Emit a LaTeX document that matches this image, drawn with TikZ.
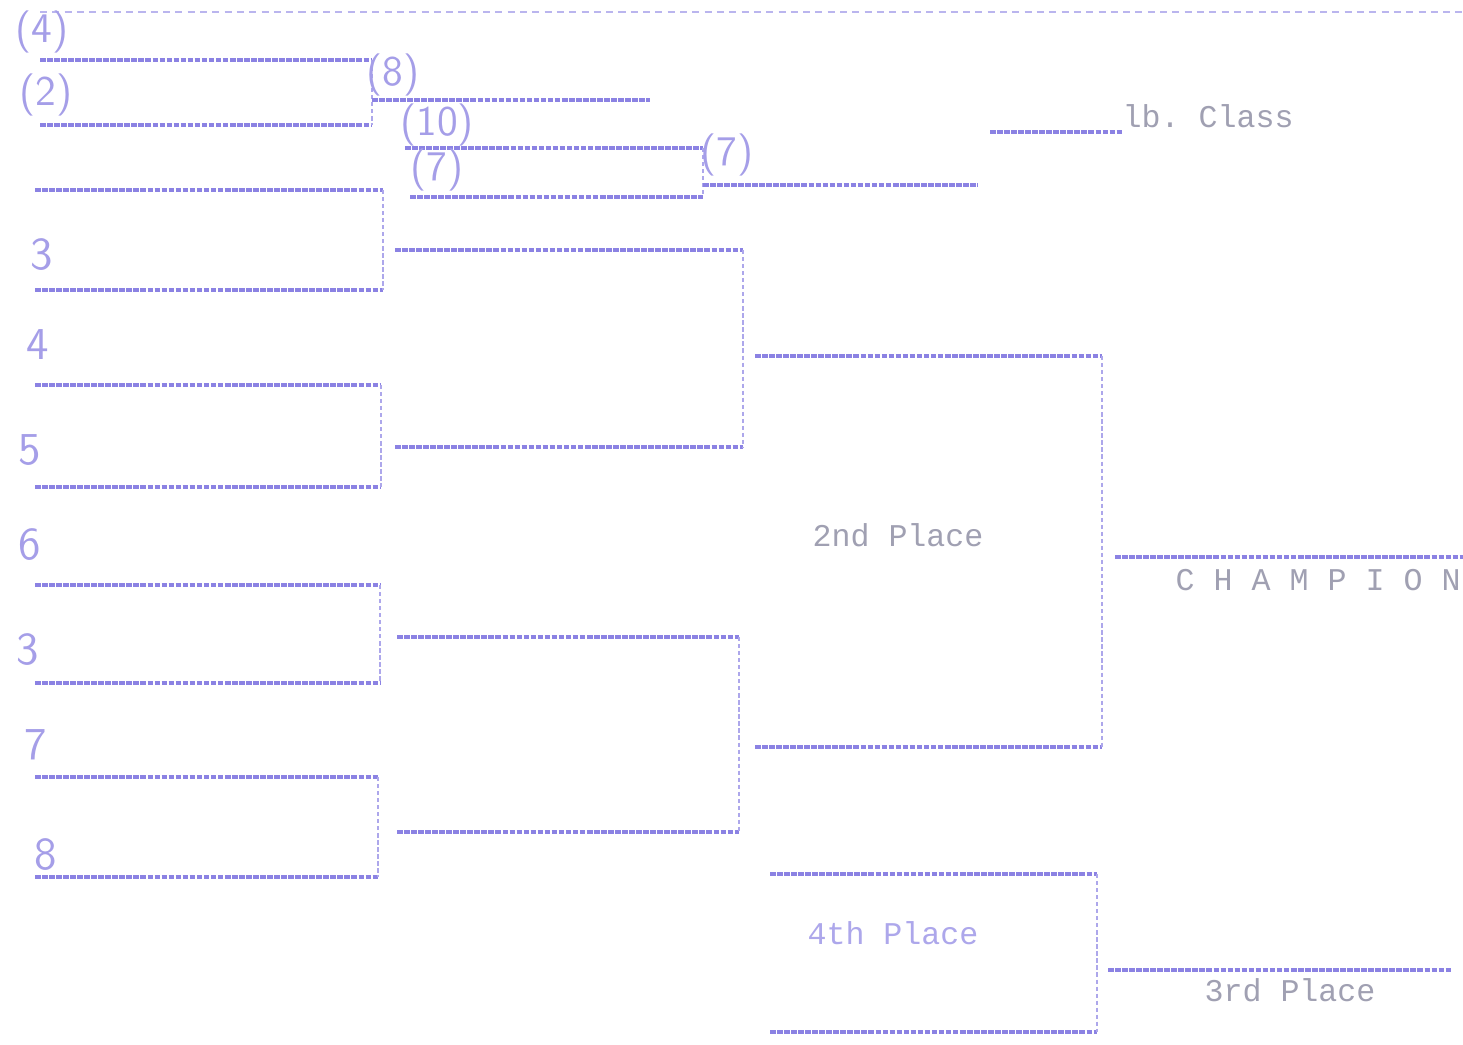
\documentclass[tikz,border=0pt]{standalone}
\usepackage{fontspec}
\setmonofont{Liberation Mono}
\usepackage{xcolor}
\usepackage{tikz}
\usetikzlibrary{positioning}

\definecolor{ditto}{RGB}{118,108,222}
\definecolor{typed}{RGB}{160,160,178}
\definecolor{pencil}{RGB}{165,158,232}

\begin{document}
\begin{tikzpicture}[
    x=0.01cm, y=-0.01cm,
    slot/.style={draw=ditto!85, line width=0.9pt, dash pattern=on 1.6pt off 0.4pt},
    tie/.style={draw=ditto!60, line width=0.5pt, dash pattern=on 1.2pt off 0.8pt},
    faint/.style={draw=ditto!50, line width=0.5pt, dash pattern=on 2pt off 1.5pt},
    label/.style={text=typed, font=\ttfamily\fontsize{9}{11}\selectfont, inner sep=0pt},
    hand/.style={text=pencil, font=\sffamily\fontsize{12}{14}\selectfont, inner sep=0pt},
    seed/.style={text=pencil, font=\sffamily\fontsize{13}{15}\selectfont, inner sep=0pt}
]
    \useasboundingbox[fill=white] (0,0) rectangle (1463,1044);

    % top rule
    \coordinate (topL) at (40,12);
    \coordinate (topR) at (1463,12);
    \draw[faint] (topL) -- (topR);

    % preliminary bouts
    \coordinate (pa1) at (40,60);   \coordinate (pa1e) at (372,60);
    \coordinate (pa2) at (40,125);  \coordinate (pa2e) at (372,125);
    \coordinate (pao) at (372,100); \coordinate (paoe) at (650,100);
    \coordinate (pb1) at (405,148); \coordinate (pb1e) at (703,148);
    \coordinate (pb2) at (410,197); \coordinate (pb2e) at (703,197);
    \coordinate (pbo) at (703,185); \coordinate (pboe) at (978,185);
    \draw[slot] (pa1) -- (pa1e);
    \draw[slot] (pa2) -- (pa2e);
    \draw[tie] (pa1e) -- (pa2e);
    \draw[slot] (pao) -- (paoe);
    \draw[slot] (pb1) -- (pb1e);
    \draw[slot] (pb2) -- (pb2e);
    \draw[tie] (pb1e) -- (pb2e);
    \draw[slot] (pbo) -- (pboe);

    % weight class
    \coordinate (cls) at (990,132);
    \node[label, anchor=south west] (clsname) at (1122,128) {lb. Class};
    \draw[slot] (cls) -- (cls -| clsname.west);

    % first round
    \coordinate (a1) at (35,190);  \coordinate (a1e) at (383,190);
    \coordinate (a2) at (35,290);  \coordinate (a2e) at (383,290);
    \coordinate (b1) at (35,385);  \coordinate (b1e) at (381,385);
    \coordinate (b2) at (35,487);  \coordinate (b2e) at (381,487);
    \coordinate (c1) at (35,585);  \coordinate (c1e) at (380,585);
    \coordinate (c2) at (35,683);  \coordinate (c2e) at (380,683);
    \coordinate (d1) at (35,777);  \coordinate (d1e) at (378,777);
    \coordinate (d2) at (35,877);  \coordinate (d2e) at (378,877);
    \draw[slot] (a1) -- (a1e);  \draw[slot] (a2) -- (a2e);  \draw[tie] (a1e) -- (a2e);
    \draw[slot] (b1) -- (b1e);  \draw[slot] (b2) -- (b2e);  \draw[tie] (b1e) -- (b2e);
    \draw[slot] (c1) -- (c1e);  \draw[slot] (c2) -- (c2e);  \draw[tie] (c1e) -- (c2e);
    \draw[slot] (d1) -- (d1e);  \draw[slot] (d2) -- (d2e);  \draw[tie] (d1e) -- (d2e);

    % semi-finals
    \coordinate (s1) at (395,250); \coordinate (s1e) at (743,250);
    \coordinate (s2) at (395,447); \coordinate (s2e) at (743,447);
    \coordinate (s3) at (397,637); \coordinate (s3e) at (739,637);
    \coordinate (s4) at (397,832); \coordinate (s4e) at (739,832);
    \draw[slot] (s1) -- (s1e);  \draw[slot] (s2) -- (s2e);  \draw[tie] (s1e) -- (s2e);
    \draw[slot] (s3) -- (s3e);  \draw[slot] (s4) -- (s4e);  \draw[tie] (s3e) -- (s4e);

    % final
    \coordinate (f1) at (755,356);  \coordinate (f1e) at (1102,356);
    \coordinate (f2) at (755,747);  \coordinate (f2e) at (1102,747);
    \coordinate (champ) at (1115,557); \coordinate (champe) at (1463,557);
    \draw[slot] (f1) -- (f1e);  \draw[slot] (f2) -- (f2e);  \draw[tie] (f1e) -- (f2e);
    \draw[slot] (champ) -- (champe);
    \node[label] (second) at (898,535) {2nd Place};
    \node[label, anchor=west] (champion) at (1175,580) {C H A M P I O N};

    % consolation
    \coordinate (t1) at (770,874);   \coordinate (t1e) at (1097,874);
    \coordinate (t2) at (770,1032);  \coordinate (t2e) at (1097,1032);
    \coordinate (third) at (1108,970); \coordinate (thirde) at (1452,970);
    \draw[slot] (t1) -- (t1e);  \draw[slot] (t2) -- (t2e);  \draw[tie] (t1e) -- (t2e);
    \draw[slot] (third) -- (thirde);
    \node[label, text=ditto!60] (fourth) at (893,933) {4th Place};
    \node[label] (thirdname) at (1290,990) {3rd Place};

    % pencilled entries
    \node[hand] (n4) at (42,32) {(4)};
    \node[hand] (n2) at (46,95) {(2)};
    \node[hand] (n8) at (393,75) {(8)};
    \node[hand] (n10) at (437,125) {(10)};
    \node[hand] (n7a) at (437,170) {(7)};
    \node[hand] (n7b) at (727,155) {(7)};
    \node[seed] (e1) at (42,255) {3};
    \node[seed] (e2) at (38,345) {4};
    \node[seed] (e3) at (30,450) {5};
    \node[seed] (e4) at (30,545) {6};
    \node[seed] (e5) at (28,650) {3};
    \node[seed] (e6) at (36,745) {7};
    \node[seed] (e7) at (46,855) {8};
\end{tikzpicture}
\end{document}
